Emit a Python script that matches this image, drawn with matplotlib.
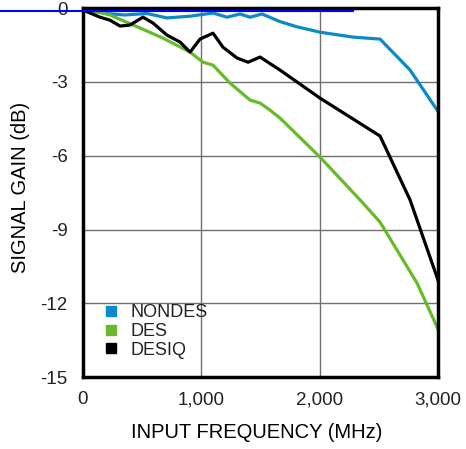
import numpy as np
import matplotlib
matplotlib.use('Agg')
import matplotlib.pyplot as plt
from matplotlib.lines import Line2D

# данные
freq_nondes = [0, 100, 200, 350, 541, 710, 905, 1099, 1217, 1327, 1412, 1513, 1665,
               1800, 2003, 2282, 2510, 2764, 3000]
gain_nondes = [0, -0.15, -0.22, -0.28, -0.22, -0.4, -0.33, -0.2, -0.37, -0.24, -0.37, -0.24,
               -0.55, -0.75, -0.98, -1.18, -1.26, -2.52, -4.2]

freq_des = [0, 228, 482, 676, 905, 1014, 1099, 1243, 1412, 1496, 1581, 1665, 2003, 2342,
            2510, 2654, 2823, 3000]
gain_des = [0, -0.28, -0.81, -1.22, -1.79, -2.2, -2.32, -3.05, -3.74, -3.86, -4.15, -4.47,
            -6.06, -7.8, -8.7, -9.84, -11.18, -13.05]

freq_desiq = [0, 144, 228, 313, 397, 507, 592, 710, 820, 905, 989, 1099, 1183, 1302, 1395,
              1496, 1665, 2003, 2510, 2764, 3000]
gain_desiq = [-0.08, -0.37, -0.49, -0.73, -0.69, -0.37, -0.61, -1.1, -1.38, -1.79, -1.26,
              -1.02, -1.59, -2.03, -2.2, -1.99, -2.52, -3.66, -5.2, -7.8, -11.06]

x_ticks = [0, 1000, 2000, 3000]
x_labels = ['0', '1,000', '2,000', '3,000']
y_ticks = [0, -3, -6, -9, -12, -15]

plt.rcParams['font.family'] = ['Liberation Sans', 'DejaVu Sans']
plt.rcParams['axes.unicode_minus'] = False
plt.rcParams['text.color'] = '#222222'

fig = plt.figure(figsize=(4.66, 4.49), dpi=100)
ax = fig.add_axes([0.178, 0.160, 0.762, 0.822])

ax.plot(freq_nondes, gain_nondes, color='#0a8ac6', lw=2.3, solid_joinstyle='round')
ax.plot(freq_des, gain_des, color='#66bb2a', lw=2.3, solid_joinstyle='round')
ax.plot(freq_desiq, gain_desiq, color='black', lw=2.3, solid_joinstyle='round')

ax.set_xlim(0, 3000)
ax.set_ylim(-15, 0)
ax.set_xticks(x_ticks)
ax.set_xticklabels(x_labels)
ax.set_yticks(y_ticks)
ax.tick_params(length=0, labelsize=13.5, labelcolor='#222222')
ax.tick_params(axis='x', pad=10)
ax.tick_params(axis='y', pad=11)
ax.grid(True, color='#707070', lw=1)
for s in ax.spines.values():
    s.set_linewidth(2.5)

ax.set_xlabel('INPUT FREQUENCY (MHz)', fontsize=14.5)
ax.set_ylabel('SIGNAL GAIN (dB)', fontsize=14.5)
ax.xaxis.set_label_coords(0.49, -0.125)
ax.yaxis.set_label_coords(-0.15, 0.515)

handles = [Line2D([], [], ls='', marker='s', ms=7.5, color=c)
           for c in ['#0a8ac6', '#66bb2a', 'black']]
ax.legend(handles, ['NONDES', 'DES', 'DESIQ'], loc='upper left', frameon=False,
          fontsize=13, handlelength=1.0, handletextpad=0.55, labelspacing=0.1,
          borderpad=0, borderaxespad=0, bbox_to_anchor=(0.054, 0.198))

# обрезанная ссылка сверху
fig.add_artist(Line2D([0, 353 / 466], [1 - 10.5 / 449] * 2, color='#0000ff', lw=1.5))

fig.savefig('out.png', dpi=100)
